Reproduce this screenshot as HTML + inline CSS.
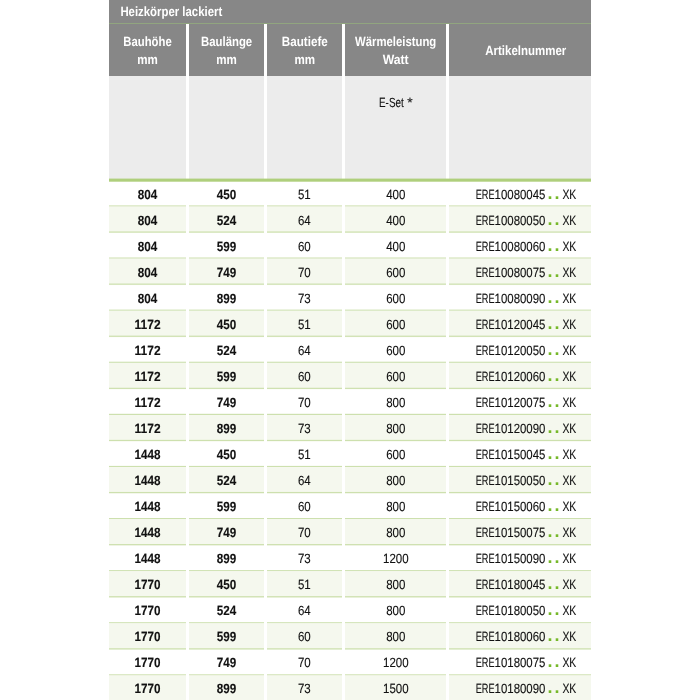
<!DOCTYPE html>
<html lang="de"><head><meta charset="utf-8"><title>Heizkörper lackiert</title>
<style>html,body{margin:0;padding:0;background:#fff}svg{display:block}text{font-family:"Liberation Sans",sans-serif;font-size:13.3px;text-rendering:geometricPrecision}.b{font-weight:bold;stroke:#111;stroke-width:.3px;stroke-linejoin:round}.w{fill:#fff;font-weight:bold}.d{fill:#111;stroke:#111;stroke-width:.12px}.g{fill:#76b82a;font-weight:bold;font-size:18px;stroke:none}</style></head><body>
<svg width="700" height="700" viewBox="0 0 700 700">
<rect width="700" height="700" fill="#fff"/>
<rect x="109" y="0" width="482" height="24" fill="#878787"/>
<rect x="109" y="23" width="482" height="1" fill="#91a57f"/>
<rect x="109" y="24" width="77" height="52" fill="#878787"/>
<rect x="109" y="76" width="77" height="103" fill="#ececec"/>
<rect x="189" y="24" width="75" height="52" fill="#878787"/>
<rect x="189" y="76" width="75" height="103" fill="#ececec"/>
<rect x="267" y="24" width="75" height="52" fill="#878787"/>
<rect x="267" y="76" width="75" height="103" fill="#ececec"/>
<rect x="345" y="24" width="101" height="52" fill="#878787"/>
<rect x="345" y="76" width="101" height="103" fill="#ececec"/>
<rect x="449" y="24" width="142" height="52" fill="#878787"/>
<rect x="449" y="76" width="142" height="103" fill="#ececec"/>
<rect x="109" y="178.6" width="482" height="3.1" fill="#afcf7c"/>
<text x="120.40" y="15.90" textLength="101.80" lengthAdjust="spacingAndGlyphs" class="w">Heizkörper lackiert</text>
<text x="123.30" y="45.70" textLength="48.40" lengthAdjust="spacingAndGlyphs" class="w">Bauhöhe</text>
<text x="137.20" y="63.70" textLength="20.60" lengthAdjust="spacingAndGlyphs" class="w">mm</text>
<text x="201.00" y="45.70" textLength="51.20" lengthAdjust="spacingAndGlyphs" class="w">Baulänge</text>
<text x="216.20" y="63.70" textLength="20.60" lengthAdjust="spacingAndGlyphs" class="w">mm</text>
<text x="281.80" y="45.70" textLength="46.00" lengthAdjust="spacingAndGlyphs" class="w">Bautiefe</text>
<text x="294.50" y="63.70" textLength="20.60" lengthAdjust="spacingAndGlyphs" class="w">mm</text>
<text x="355.10" y="45.70" textLength="81.20" lengthAdjust="spacingAndGlyphs" class="w">Wärmeleistung</text>
<text x="382.70" y="63.70" textLength="26.00" lengthAdjust="spacingAndGlyphs" class="w">Watt</text>
<text x="485.30" y="54.70" textLength="81.00" lengthAdjust="spacingAndGlyphs" class="w">Artikelnummer</text>
<text y="106.6" class="d"><tspan x="379" textLength="24.8" lengthAdjust="spacingAndGlyphs">E-Set</tspan> <tspan x="407.3" textLength="5.4" lengthAdjust="spacingAndGlyphs">*</tspan></text>
<rect x="109" y="205.40" width="77" height="1.2" fill="#cde0ae"/>
<rect x="189" y="205.40" width="75" height="1.2" fill="#cde0ae"/>
<rect x="267" y="205.40" width="75" height="1.2" fill="#cde0ae"/>
<rect x="345" y="205.40" width="101" height="1.2" fill="#cde0ae"/>
<rect x="449" y="205.40" width="142" height="1.2" fill="#cde0ae"/>
<text x="137.85" y="198.60" textLength="19.50" lengthAdjust="spacingAndGlyphs" class="b d">804</text>
<text x="216.75" y="198.60" textLength="19.50" lengthAdjust="spacingAndGlyphs" class="b d">450</text>
<text x="297.90" y="198.60" textLength="12.80" lengthAdjust="spacingAndGlyphs" class="d">51</text>
<text x="386.20" y="198.60" textLength="19.20" lengthAdjust="spacingAndGlyphs" class="d">400</text>
<text y="198.60" class="d"><tspan x="475.7" textLength="18.9" lengthAdjust="spacingAndGlyphs">ERE</tspan><tspan x="494.6" textLength="50.8" lengthAdjust="spacingAndGlyphs">10080045</tspan><tspan x="547.6" textLength="11.8" lengthAdjust="spacing" class="g">..</tspan><tspan x="562.4" textLength="13.9" lengthAdjust="spacingAndGlyphs">XK</tspan></text>
<rect x="109" y="206.60" width="77" height="26.45" fill="#f5f8ee"/>
<rect x="189" y="206.60" width="75" height="26.45" fill="#f5f8ee"/>
<rect x="267" y="206.60" width="75" height="26.45" fill="#f5f8ee"/>
<rect x="345" y="206.60" width="101" height="26.45" fill="#f5f8ee"/>
<rect x="449" y="206.60" width="142" height="26.45" fill="#f5f8ee"/>
<rect x="109" y="231.45" width="77" height="1.2" fill="#cde0ae"/>
<rect x="189" y="231.45" width="75" height="1.2" fill="#cde0ae"/>
<rect x="267" y="231.45" width="75" height="1.2" fill="#cde0ae"/>
<rect x="345" y="231.45" width="101" height="1.2" fill="#cde0ae"/>
<rect x="449" y="231.45" width="142" height="1.2" fill="#cde0ae"/>
<text x="137.85" y="224.60" textLength="19.50" lengthAdjust="spacingAndGlyphs" class="b d">804</text>
<text x="216.75" y="224.60" textLength="19.50" lengthAdjust="spacingAndGlyphs" class="b d">524</text>
<text x="297.90" y="224.60" textLength="12.80" lengthAdjust="spacingAndGlyphs" class="d">64</text>
<text x="386.20" y="224.60" textLength="19.20" lengthAdjust="spacingAndGlyphs" class="d">400</text>
<text y="224.60" class="d"><tspan x="475.7" textLength="18.9" lengthAdjust="spacingAndGlyphs">ERE</tspan><tspan x="494.6" textLength="50.8" lengthAdjust="spacingAndGlyphs">10080050</tspan><tspan x="547.6" textLength="11.8" lengthAdjust="spacing" class="g">..</tspan><tspan x="562.4" textLength="13.9" lengthAdjust="spacingAndGlyphs">XK</tspan></text>
<rect x="109" y="257.50" width="77" height="1.2" fill="#cde0ae"/>
<rect x="189" y="257.50" width="75" height="1.2" fill="#cde0ae"/>
<rect x="267" y="257.50" width="75" height="1.2" fill="#cde0ae"/>
<rect x="345" y="257.50" width="101" height="1.2" fill="#cde0ae"/>
<rect x="449" y="257.50" width="142" height="1.2" fill="#cde0ae"/>
<text x="137.85" y="250.60" textLength="19.50" lengthAdjust="spacingAndGlyphs" class="b d">804</text>
<text x="216.75" y="250.60" textLength="19.50" lengthAdjust="spacingAndGlyphs" class="b d">599</text>
<text x="297.90" y="250.60" textLength="12.80" lengthAdjust="spacingAndGlyphs" class="d">60</text>
<text x="386.20" y="250.60" textLength="19.20" lengthAdjust="spacingAndGlyphs" class="d">400</text>
<text y="250.60" class="d"><tspan x="475.7" textLength="18.9" lengthAdjust="spacingAndGlyphs">ERE</tspan><tspan x="494.6" textLength="50.8" lengthAdjust="spacingAndGlyphs">10080060</tspan><tspan x="547.6" textLength="11.8" lengthAdjust="spacing" class="g">..</tspan><tspan x="562.4" textLength="13.9" lengthAdjust="spacingAndGlyphs">XK</tspan></text>
<rect x="109" y="258.70" width="77" height="26.45" fill="#f5f8ee"/>
<rect x="189" y="258.70" width="75" height="26.45" fill="#f5f8ee"/>
<rect x="267" y="258.70" width="75" height="26.45" fill="#f5f8ee"/>
<rect x="345" y="258.70" width="101" height="26.45" fill="#f5f8ee"/>
<rect x="449" y="258.70" width="142" height="26.45" fill="#f5f8ee"/>
<rect x="109" y="283.55" width="77" height="1.2" fill="#cde0ae"/>
<rect x="189" y="283.55" width="75" height="1.2" fill="#cde0ae"/>
<rect x="267" y="283.55" width="75" height="1.2" fill="#cde0ae"/>
<rect x="345" y="283.55" width="101" height="1.2" fill="#cde0ae"/>
<rect x="449" y="283.55" width="142" height="1.2" fill="#cde0ae"/>
<text x="137.85" y="276.60" textLength="19.50" lengthAdjust="spacingAndGlyphs" class="b d">804</text>
<text x="216.75" y="276.60" textLength="19.50" lengthAdjust="spacingAndGlyphs" class="b d">749</text>
<text x="297.90" y="276.60" textLength="12.80" lengthAdjust="spacingAndGlyphs" class="d">70</text>
<text x="386.20" y="276.60" textLength="19.20" lengthAdjust="spacingAndGlyphs" class="d">600</text>
<text y="276.60" class="d"><tspan x="475.7" textLength="18.9" lengthAdjust="spacingAndGlyphs">ERE</tspan><tspan x="494.6" textLength="50.8" lengthAdjust="spacingAndGlyphs">10080075</tspan><tspan x="547.6" textLength="11.8" lengthAdjust="spacing" class="g">..</tspan><tspan x="562.4" textLength="13.9" lengthAdjust="spacingAndGlyphs">XK</tspan></text>
<rect x="109" y="309.60" width="77" height="1.2" fill="#cde0ae"/>
<rect x="189" y="309.60" width="75" height="1.2" fill="#cde0ae"/>
<rect x="267" y="309.60" width="75" height="1.2" fill="#cde0ae"/>
<rect x="345" y="309.60" width="101" height="1.2" fill="#cde0ae"/>
<rect x="449" y="309.60" width="142" height="1.2" fill="#cde0ae"/>
<text x="137.85" y="302.60" textLength="19.50" lengthAdjust="spacingAndGlyphs" class="b d">804</text>
<text x="216.75" y="302.60" textLength="19.50" lengthAdjust="spacingAndGlyphs" class="b d">899</text>
<text x="297.90" y="302.60" textLength="12.80" lengthAdjust="spacingAndGlyphs" class="d">73</text>
<text x="386.20" y="302.60" textLength="19.20" lengthAdjust="spacingAndGlyphs" class="d">600</text>
<text y="302.60" class="d"><tspan x="475.7" textLength="18.9" lengthAdjust="spacingAndGlyphs">ERE</tspan><tspan x="494.6" textLength="50.8" lengthAdjust="spacingAndGlyphs">10080090</tspan><tspan x="547.6" textLength="11.8" lengthAdjust="spacing" class="g">..</tspan><tspan x="562.4" textLength="13.9" lengthAdjust="spacingAndGlyphs">XK</tspan></text>
<rect x="109" y="310.80" width="77" height="26.45" fill="#f5f8ee"/>
<rect x="189" y="310.80" width="75" height="26.45" fill="#f5f8ee"/>
<rect x="267" y="310.80" width="75" height="26.45" fill="#f5f8ee"/>
<rect x="345" y="310.80" width="101" height="26.45" fill="#f5f8ee"/>
<rect x="449" y="310.80" width="142" height="26.45" fill="#f5f8ee"/>
<rect x="109" y="335.65" width="77" height="1.2" fill="#cde0ae"/>
<rect x="189" y="335.65" width="75" height="1.2" fill="#cde0ae"/>
<rect x="267" y="335.65" width="75" height="1.2" fill="#cde0ae"/>
<rect x="345" y="335.65" width="101" height="1.2" fill="#cde0ae"/>
<rect x="449" y="335.65" width="142" height="1.2" fill="#cde0ae"/>
<text x="134.60" y="328.60" textLength="26.00" lengthAdjust="spacingAndGlyphs" class="b d">1172</text>
<text x="216.75" y="328.60" textLength="19.50" lengthAdjust="spacingAndGlyphs" class="b d">450</text>
<text x="297.90" y="328.60" textLength="12.80" lengthAdjust="spacingAndGlyphs" class="d">51</text>
<text x="386.20" y="328.60" textLength="19.20" lengthAdjust="spacingAndGlyphs" class="d">600</text>
<text y="328.60" class="d"><tspan x="475.7" textLength="18.9" lengthAdjust="spacingAndGlyphs">ERE</tspan><tspan x="494.6" textLength="50.8" lengthAdjust="spacingAndGlyphs">10120045</tspan><tspan x="547.6" textLength="11.8" lengthAdjust="spacing" class="g">..</tspan><tspan x="562.4" textLength="13.9" lengthAdjust="spacingAndGlyphs">XK</tspan></text>
<rect x="109" y="361.70" width="77" height="1.2" fill="#cde0ae"/>
<rect x="189" y="361.70" width="75" height="1.2" fill="#cde0ae"/>
<rect x="267" y="361.70" width="75" height="1.2" fill="#cde0ae"/>
<rect x="345" y="361.70" width="101" height="1.2" fill="#cde0ae"/>
<rect x="449" y="361.70" width="142" height="1.2" fill="#cde0ae"/>
<text x="134.60" y="354.60" textLength="26.00" lengthAdjust="spacingAndGlyphs" class="b d">1172</text>
<text x="216.75" y="354.60" textLength="19.50" lengthAdjust="spacingAndGlyphs" class="b d">524</text>
<text x="297.90" y="354.60" textLength="12.80" lengthAdjust="spacingAndGlyphs" class="d">64</text>
<text x="386.20" y="354.60" textLength="19.20" lengthAdjust="spacingAndGlyphs" class="d">600</text>
<text y="354.60" class="d"><tspan x="475.7" textLength="18.9" lengthAdjust="spacingAndGlyphs">ERE</tspan><tspan x="494.6" textLength="50.8" lengthAdjust="spacingAndGlyphs">10120050</tspan><tspan x="547.6" textLength="11.8" lengthAdjust="spacing" class="g">..</tspan><tspan x="562.4" textLength="13.9" lengthAdjust="spacingAndGlyphs">XK</tspan></text>
<rect x="109" y="362.90" width="77" height="26.45" fill="#f5f8ee"/>
<rect x="189" y="362.90" width="75" height="26.45" fill="#f5f8ee"/>
<rect x="267" y="362.90" width="75" height="26.45" fill="#f5f8ee"/>
<rect x="345" y="362.90" width="101" height="26.45" fill="#f5f8ee"/>
<rect x="449" y="362.90" width="142" height="26.45" fill="#f5f8ee"/>
<rect x="109" y="387.75" width="77" height="1.2" fill="#cde0ae"/>
<rect x="189" y="387.75" width="75" height="1.2" fill="#cde0ae"/>
<rect x="267" y="387.75" width="75" height="1.2" fill="#cde0ae"/>
<rect x="345" y="387.75" width="101" height="1.2" fill="#cde0ae"/>
<rect x="449" y="387.75" width="142" height="1.2" fill="#cde0ae"/>
<text x="134.60" y="380.60" textLength="26.00" lengthAdjust="spacingAndGlyphs" class="b d">1172</text>
<text x="216.75" y="380.60" textLength="19.50" lengthAdjust="spacingAndGlyphs" class="b d">599</text>
<text x="297.90" y="380.60" textLength="12.80" lengthAdjust="spacingAndGlyphs" class="d">60</text>
<text x="386.20" y="380.60" textLength="19.20" lengthAdjust="spacingAndGlyphs" class="d">600</text>
<text y="380.60" class="d"><tspan x="475.7" textLength="18.9" lengthAdjust="spacingAndGlyphs">ERE</tspan><tspan x="494.6" textLength="50.8" lengthAdjust="spacingAndGlyphs">10120060</tspan><tspan x="547.6" textLength="11.8" lengthAdjust="spacing" class="g">..</tspan><tspan x="562.4" textLength="13.9" lengthAdjust="spacingAndGlyphs">XK</tspan></text>
<rect x="109" y="413.80" width="77" height="1.2" fill="#cde0ae"/>
<rect x="189" y="413.80" width="75" height="1.2" fill="#cde0ae"/>
<rect x="267" y="413.80" width="75" height="1.2" fill="#cde0ae"/>
<rect x="345" y="413.80" width="101" height="1.2" fill="#cde0ae"/>
<rect x="449" y="413.80" width="142" height="1.2" fill="#cde0ae"/>
<text x="134.60" y="406.60" textLength="26.00" lengthAdjust="spacingAndGlyphs" class="b d">1172</text>
<text x="216.75" y="406.60" textLength="19.50" lengthAdjust="spacingAndGlyphs" class="b d">749</text>
<text x="297.90" y="406.60" textLength="12.80" lengthAdjust="spacingAndGlyphs" class="d">70</text>
<text x="386.20" y="406.60" textLength="19.20" lengthAdjust="spacingAndGlyphs" class="d">800</text>
<text y="406.60" class="d"><tspan x="475.7" textLength="18.9" lengthAdjust="spacingAndGlyphs">ERE</tspan><tspan x="494.6" textLength="50.8" lengthAdjust="spacingAndGlyphs">10120075</tspan><tspan x="547.6" textLength="11.8" lengthAdjust="spacing" class="g">..</tspan><tspan x="562.4" textLength="13.9" lengthAdjust="spacingAndGlyphs">XK</tspan></text>
<rect x="109" y="415.00" width="77" height="26.45" fill="#f5f8ee"/>
<rect x="189" y="415.00" width="75" height="26.45" fill="#f5f8ee"/>
<rect x="267" y="415.00" width="75" height="26.45" fill="#f5f8ee"/>
<rect x="345" y="415.00" width="101" height="26.45" fill="#f5f8ee"/>
<rect x="449" y="415.00" width="142" height="26.45" fill="#f5f8ee"/>
<rect x="109" y="439.85" width="77" height="1.2" fill="#cde0ae"/>
<rect x="189" y="439.85" width="75" height="1.2" fill="#cde0ae"/>
<rect x="267" y="439.85" width="75" height="1.2" fill="#cde0ae"/>
<rect x="345" y="439.85" width="101" height="1.2" fill="#cde0ae"/>
<rect x="449" y="439.85" width="142" height="1.2" fill="#cde0ae"/>
<text x="134.60" y="432.60" textLength="26.00" lengthAdjust="spacingAndGlyphs" class="b d">1172</text>
<text x="216.75" y="432.60" textLength="19.50" lengthAdjust="spacingAndGlyphs" class="b d">899</text>
<text x="297.90" y="432.60" textLength="12.80" lengthAdjust="spacingAndGlyphs" class="d">73</text>
<text x="386.20" y="432.60" textLength="19.20" lengthAdjust="spacingAndGlyphs" class="d">800</text>
<text y="432.60" class="d"><tspan x="475.7" textLength="18.9" lengthAdjust="spacingAndGlyphs">ERE</tspan><tspan x="494.6" textLength="50.8" lengthAdjust="spacingAndGlyphs">10120090</tspan><tspan x="547.6" textLength="11.8" lengthAdjust="spacing" class="g">..</tspan><tspan x="562.4" textLength="13.9" lengthAdjust="spacingAndGlyphs">XK</tspan></text>
<rect x="109" y="465.90" width="77" height="1.2" fill="#cde0ae"/>
<rect x="189" y="465.90" width="75" height="1.2" fill="#cde0ae"/>
<rect x="267" y="465.90" width="75" height="1.2" fill="#cde0ae"/>
<rect x="345" y="465.90" width="101" height="1.2" fill="#cde0ae"/>
<rect x="449" y="465.90" width="142" height="1.2" fill="#cde0ae"/>
<text x="134.60" y="458.60" textLength="26.00" lengthAdjust="spacingAndGlyphs" class="b d">1448</text>
<text x="216.75" y="458.60" textLength="19.50" lengthAdjust="spacingAndGlyphs" class="b d">450</text>
<text x="297.90" y="458.60" textLength="12.80" lengthAdjust="spacingAndGlyphs" class="d">51</text>
<text x="386.20" y="458.60" textLength="19.20" lengthAdjust="spacingAndGlyphs" class="d">600</text>
<text y="458.60" class="d"><tspan x="475.7" textLength="18.9" lengthAdjust="spacingAndGlyphs">ERE</tspan><tspan x="494.6" textLength="50.8" lengthAdjust="spacingAndGlyphs">10150045</tspan><tspan x="547.6" textLength="11.8" lengthAdjust="spacing" class="g">..</tspan><tspan x="562.4" textLength="13.9" lengthAdjust="spacingAndGlyphs">XK</tspan></text>
<rect x="109" y="467.10" width="77" height="26.45" fill="#f5f8ee"/>
<rect x="189" y="467.10" width="75" height="26.45" fill="#f5f8ee"/>
<rect x="267" y="467.10" width="75" height="26.45" fill="#f5f8ee"/>
<rect x="345" y="467.10" width="101" height="26.45" fill="#f5f8ee"/>
<rect x="449" y="467.10" width="142" height="26.45" fill="#f5f8ee"/>
<rect x="109" y="491.95" width="77" height="1.2" fill="#cde0ae"/>
<rect x="189" y="491.95" width="75" height="1.2" fill="#cde0ae"/>
<rect x="267" y="491.95" width="75" height="1.2" fill="#cde0ae"/>
<rect x="345" y="491.95" width="101" height="1.2" fill="#cde0ae"/>
<rect x="449" y="491.95" width="142" height="1.2" fill="#cde0ae"/>
<text x="134.60" y="484.60" textLength="26.00" lengthAdjust="spacingAndGlyphs" class="b d">1448</text>
<text x="216.75" y="484.60" textLength="19.50" lengthAdjust="spacingAndGlyphs" class="b d">524</text>
<text x="297.90" y="484.60" textLength="12.80" lengthAdjust="spacingAndGlyphs" class="d">64</text>
<text x="386.20" y="484.60" textLength="19.20" lengthAdjust="spacingAndGlyphs" class="d">800</text>
<text y="484.60" class="d"><tspan x="475.7" textLength="18.9" lengthAdjust="spacingAndGlyphs">ERE</tspan><tspan x="494.6" textLength="50.8" lengthAdjust="spacingAndGlyphs">10150050</tspan><tspan x="547.6" textLength="11.8" lengthAdjust="spacing" class="g">..</tspan><tspan x="562.4" textLength="13.9" lengthAdjust="spacingAndGlyphs">XK</tspan></text>
<rect x="109" y="518.00" width="77" height="1.2" fill="#cde0ae"/>
<rect x="189" y="518.00" width="75" height="1.2" fill="#cde0ae"/>
<rect x="267" y="518.00" width="75" height="1.2" fill="#cde0ae"/>
<rect x="345" y="518.00" width="101" height="1.2" fill="#cde0ae"/>
<rect x="449" y="518.00" width="142" height="1.2" fill="#cde0ae"/>
<text x="134.60" y="510.60" textLength="26.00" lengthAdjust="spacingAndGlyphs" class="b d">1448</text>
<text x="216.75" y="510.60" textLength="19.50" lengthAdjust="spacingAndGlyphs" class="b d">599</text>
<text x="297.90" y="510.60" textLength="12.80" lengthAdjust="spacingAndGlyphs" class="d">60</text>
<text x="386.20" y="510.60" textLength="19.20" lengthAdjust="spacingAndGlyphs" class="d">800</text>
<text y="510.60" class="d"><tspan x="475.7" textLength="18.9" lengthAdjust="spacingAndGlyphs">ERE</tspan><tspan x="494.6" textLength="50.8" lengthAdjust="spacingAndGlyphs">10150060</tspan><tspan x="547.6" textLength="11.8" lengthAdjust="spacing" class="g">..</tspan><tspan x="562.4" textLength="13.9" lengthAdjust="spacingAndGlyphs">XK</tspan></text>
<rect x="109" y="519.20" width="77" height="26.45" fill="#f5f8ee"/>
<rect x="189" y="519.20" width="75" height="26.45" fill="#f5f8ee"/>
<rect x="267" y="519.20" width="75" height="26.45" fill="#f5f8ee"/>
<rect x="345" y="519.20" width="101" height="26.45" fill="#f5f8ee"/>
<rect x="449" y="519.20" width="142" height="26.45" fill="#f5f8ee"/>
<rect x="109" y="544.05" width="77" height="1.2" fill="#cde0ae"/>
<rect x="189" y="544.05" width="75" height="1.2" fill="#cde0ae"/>
<rect x="267" y="544.05" width="75" height="1.2" fill="#cde0ae"/>
<rect x="345" y="544.05" width="101" height="1.2" fill="#cde0ae"/>
<rect x="449" y="544.05" width="142" height="1.2" fill="#cde0ae"/>
<text x="134.60" y="536.60" textLength="26.00" lengthAdjust="spacingAndGlyphs" class="b d">1448</text>
<text x="216.75" y="536.60" textLength="19.50" lengthAdjust="spacingAndGlyphs" class="b d">749</text>
<text x="297.90" y="536.60" textLength="12.80" lengthAdjust="spacingAndGlyphs" class="d">70</text>
<text x="386.20" y="536.60" textLength="19.20" lengthAdjust="spacingAndGlyphs" class="d">800</text>
<text y="536.60" class="d"><tspan x="475.7" textLength="18.9" lengthAdjust="spacingAndGlyphs">ERE</tspan><tspan x="494.6" textLength="50.8" lengthAdjust="spacingAndGlyphs">10150075</tspan><tspan x="547.6" textLength="11.8" lengthAdjust="spacing" class="g">..</tspan><tspan x="562.4" textLength="13.9" lengthAdjust="spacingAndGlyphs">XK</tspan></text>
<rect x="109" y="570.10" width="77" height="1.2" fill="#cde0ae"/>
<rect x="189" y="570.10" width="75" height="1.2" fill="#cde0ae"/>
<rect x="267" y="570.10" width="75" height="1.2" fill="#cde0ae"/>
<rect x="345" y="570.10" width="101" height="1.2" fill="#cde0ae"/>
<rect x="449" y="570.10" width="142" height="1.2" fill="#cde0ae"/>
<text x="134.60" y="562.60" textLength="26.00" lengthAdjust="spacingAndGlyphs" class="b d">1448</text>
<text x="216.75" y="562.60" textLength="19.50" lengthAdjust="spacingAndGlyphs" class="b d">899</text>
<text x="297.90" y="562.60" textLength="12.80" lengthAdjust="spacingAndGlyphs" class="d">73</text>
<text x="383.00" y="562.60" textLength="25.60" lengthAdjust="spacingAndGlyphs" class="d">1200</text>
<text y="562.60" class="d"><tspan x="475.7" textLength="18.9" lengthAdjust="spacingAndGlyphs">ERE</tspan><tspan x="494.6" textLength="50.8" lengthAdjust="spacingAndGlyphs">10150090</tspan><tspan x="547.6" textLength="11.8" lengthAdjust="spacing" class="g">..</tspan><tspan x="562.4" textLength="13.9" lengthAdjust="spacingAndGlyphs">XK</tspan></text>
<rect x="109" y="571.30" width="77" height="26.45" fill="#f5f8ee"/>
<rect x="189" y="571.30" width="75" height="26.45" fill="#f5f8ee"/>
<rect x="267" y="571.30" width="75" height="26.45" fill="#f5f8ee"/>
<rect x="345" y="571.30" width="101" height="26.45" fill="#f5f8ee"/>
<rect x="449" y="571.30" width="142" height="26.45" fill="#f5f8ee"/>
<rect x="109" y="596.15" width="77" height="1.2" fill="#cde0ae"/>
<rect x="189" y="596.15" width="75" height="1.2" fill="#cde0ae"/>
<rect x="267" y="596.15" width="75" height="1.2" fill="#cde0ae"/>
<rect x="345" y="596.15" width="101" height="1.2" fill="#cde0ae"/>
<rect x="449" y="596.15" width="142" height="1.2" fill="#cde0ae"/>
<text x="134.60" y="588.60" textLength="26.00" lengthAdjust="spacingAndGlyphs" class="b d">1770</text>
<text x="216.75" y="588.60" textLength="19.50" lengthAdjust="spacingAndGlyphs" class="b d">450</text>
<text x="297.90" y="588.60" textLength="12.80" lengthAdjust="spacingAndGlyphs" class="d">51</text>
<text x="386.20" y="588.60" textLength="19.20" lengthAdjust="spacingAndGlyphs" class="d">800</text>
<text y="588.60" class="d"><tspan x="475.7" textLength="18.9" lengthAdjust="spacingAndGlyphs">ERE</tspan><tspan x="494.6" textLength="50.8" lengthAdjust="spacingAndGlyphs">10180045</tspan><tspan x="547.6" textLength="11.8" lengthAdjust="spacing" class="g">..</tspan><tspan x="562.4" textLength="13.9" lengthAdjust="spacingAndGlyphs">XK</tspan></text>
<rect x="109" y="622.20" width="77" height="1.2" fill="#cde0ae"/>
<rect x="189" y="622.20" width="75" height="1.2" fill="#cde0ae"/>
<rect x="267" y="622.20" width="75" height="1.2" fill="#cde0ae"/>
<rect x="345" y="622.20" width="101" height="1.2" fill="#cde0ae"/>
<rect x="449" y="622.20" width="142" height="1.2" fill="#cde0ae"/>
<text x="134.60" y="614.60" textLength="26.00" lengthAdjust="spacingAndGlyphs" class="b d">1770</text>
<text x="216.75" y="614.60" textLength="19.50" lengthAdjust="spacingAndGlyphs" class="b d">524</text>
<text x="297.90" y="614.60" textLength="12.80" lengthAdjust="spacingAndGlyphs" class="d">64</text>
<text x="386.20" y="614.60" textLength="19.20" lengthAdjust="spacingAndGlyphs" class="d">800</text>
<text y="614.60" class="d"><tspan x="475.7" textLength="18.9" lengthAdjust="spacingAndGlyphs">ERE</tspan><tspan x="494.6" textLength="50.8" lengthAdjust="spacingAndGlyphs">10180050</tspan><tspan x="547.6" textLength="11.8" lengthAdjust="spacing" class="g">..</tspan><tspan x="562.4" textLength="13.9" lengthAdjust="spacingAndGlyphs">XK</tspan></text>
<rect x="109" y="623.40" width="77" height="26.45" fill="#f5f8ee"/>
<rect x="189" y="623.40" width="75" height="26.45" fill="#f5f8ee"/>
<rect x="267" y="623.40" width="75" height="26.45" fill="#f5f8ee"/>
<rect x="345" y="623.40" width="101" height="26.45" fill="#f5f8ee"/>
<rect x="449" y="623.40" width="142" height="26.45" fill="#f5f8ee"/>
<rect x="109" y="648.25" width="77" height="1.2" fill="#cde0ae"/>
<rect x="189" y="648.25" width="75" height="1.2" fill="#cde0ae"/>
<rect x="267" y="648.25" width="75" height="1.2" fill="#cde0ae"/>
<rect x="345" y="648.25" width="101" height="1.2" fill="#cde0ae"/>
<rect x="449" y="648.25" width="142" height="1.2" fill="#cde0ae"/>
<text x="134.60" y="640.60" textLength="26.00" lengthAdjust="spacingAndGlyphs" class="b d">1770</text>
<text x="216.75" y="640.60" textLength="19.50" lengthAdjust="spacingAndGlyphs" class="b d">599</text>
<text x="297.90" y="640.60" textLength="12.80" lengthAdjust="spacingAndGlyphs" class="d">60</text>
<text x="386.20" y="640.60" textLength="19.20" lengthAdjust="spacingAndGlyphs" class="d">800</text>
<text y="640.60" class="d"><tspan x="475.7" textLength="18.9" lengthAdjust="spacingAndGlyphs">ERE</tspan><tspan x="494.6" textLength="50.8" lengthAdjust="spacingAndGlyphs">10180060</tspan><tspan x="547.6" textLength="11.8" lengthAdjust="spacing" class="g">..</tspan><tspan x="562.4" textLength="13.9" lengthAdjust="spacingAndGlyphs">XK</tspan></text>
<rect x="109" y="674.30" width="77" height="1.2" fill="#cde0ae"/>
<rect x="189" y="674.30" width="75" height="1.2" fill="#cde0ae"/>
<rect x="267" y="674.30" width="75" height="1.2" fill="#cde0ae"/>
<rect x="345" y="674.30" width="101" height="1.2" fill="#cde0ae"/>
<rect x="449" y="674.30" width="142" height="1.2" fill="#cde0ae"/>
<text x="134.60" y="666.60" textLength="26.00" lengthAdjust="spacingAndGlyphs" class="b d">1770</text>
<text x="216.75" y="666.60" textLength="19.50" lengthAdjust="spacingAndGlyphs" class="b d">749</text>
<text x="297.90" y="666.60" textLength="12.80" lengthAdjust="spacingAndGlyphs" class="d">70</text>
<text x="383.00" y="666.60" textLength="25.60" lengthAdjust="spacingAndGlyphs" class="d">1200</text>
<text y="666.60" class="d"><tspan x="475.7" textLength="18.9" lengthAdjust="spacingAndGlyphs">ERE</tspan><tspan x="494.6" textLength="50.8" lengthAdjust="spacingAndGlyphs">10180075</tspan><tspan x="547.6" textLength="11.8" lengthAdjust="spacing" class="g">..</tspan><tspan x="562.4" textLength="13.9" lengthAdjust="spacingAndGlyphs">XK</tspan></text>
<rect x="109" y="675.50" width="77" height="26.45" fill="#f5f8ee"/>
<rect x="189" y="675.50" width="75" height="26.45" fill="#f5f8ee"/>
<rect x="267" y="675.50" width="75" height="26.45" fill="#f5f8ee"/>
<rect x="345" y="675.50" width="101" height="26.45" fill="#f5f8ee"/>
<rect x="449" y="675.50" width="142" height="26.45" fill="#f5f8ee"/>
<text x="134.60" y="692.60" textLength="26.00" lengthAdjust="spacingAndGlyphs" class="b d">1770</text>
<text x="216.75" y="692.60" textLength="19.50" lengthAdjust="spacingAndGlyphs" class="b d">899</text>
<text x="297.90" y="692.60" textLength="12.80" lengthAdjust="spacingAndGlyphs" class="d">73</text>
<text x="383.00" y="692.60" textLength="25.60" lengthAdjust="spacingAndGlyphs" class="d">1500</text>
<text y="692.60" class="d"><tspan x="475.7" textLength="18.9" lengthAdjust="spacingAndGlyphs">ERE</tspan><tspan x="494.6" textLength="50.8" lengthAdjust="spacingAndGlyphs">10180090</tspan><tspan x="547.6" textLength="11.8" lengthAdjust="spacing" class="g">..</tspan><tspan x="562.4" textLength="13.9" lengthAdjust="spacingAndGlyphs">XK</tspan></text>
</svg></body></html>
